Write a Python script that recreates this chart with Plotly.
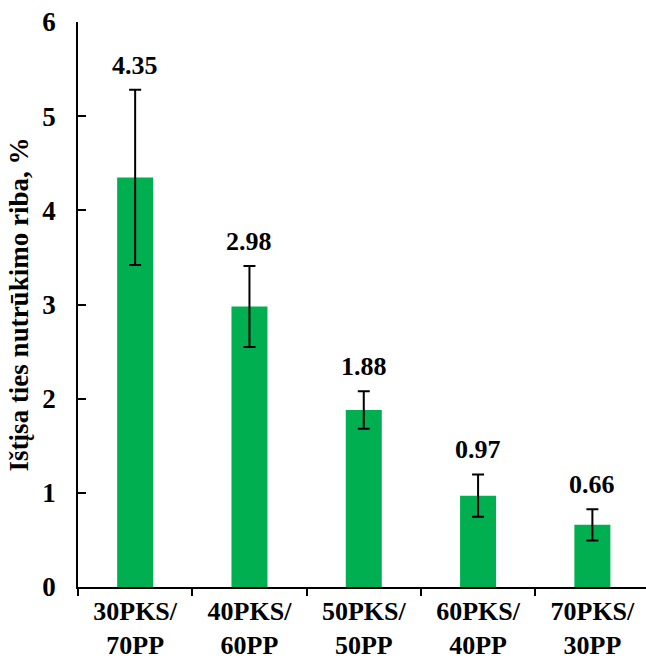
import plotly.graph_objects as go

categories = ["30PKS/<br>70PP", "40PKS/<br>60PP", "50PKS/<br>50PP", "60PKS/<br>40PP", "70PKS/<br>30PP"]
values = [4.35, 2.98, 1.88, 0.97, 0.66]
errors = [0.93, 0.43, 0.20, 0.225, 0.165]
labels = ["4.35", "2.98", "1.88", "0.97", "0.66"]

FONT = "Liberation Serif"

fig = go.Figure()
fig.add_trace(go.Bar(
    x=categories, y=values,
    marker=dict(color="#00B050", line=dict(width=0)),
    width=0.315,
    error_y=dict(type="data", array=errors, visible=True, color="black", thickness=2, width=6),
))

for c, v, e, t in zip(categories, values, errors, labels):
    fig.add_annotation(x=c, y=v + e, text=t, showarrow=False,
                       yanchor="bottom", yshift=8,
                       font=dict(family=FONT, size=26, color="black", weight="bold"))

fig.update_layout(
    width=646, height=664,
    margin=dict(l=78, r=0, t=22, b=77),
    plot_bgcolor="white", paper_bgcolor="white",
    showlegend=False,
    font=dict(family=FONT, color="black"),
)
fig.update_xaxes(
    type="category",
    range=[-0.5, 4.469],
    automargin=False,
    showline=True, linecolor="black", linewidth=1.5,
    ticks="outside", tickson="boundaries", ticklen=7, tickwidth=1.5, tickcolor="black",
    tickfont=dict(family=FONT, size=26, color="black", weight="bold"),
    ticklabelstandoff=0,
    showgrid=False,
)
fig.update_yaxes(
    range=[0, 6], dtick=1,
    automargin=False,
    showline=True, linecolor="black", linewidth=1.5,
    ticks="inside", ticklen=8, tickwidth=1.5, tickcolor="black",
    tickfont=dict(family=FONT, size=27, color="black", weight="bold"),
    ticklabelstandoff=15,
    showgrid=False, zeroline=False,
    title=dict(text="Ištįsa ties nutrūkimo riba, %",
               font=dict(family=FONT, size=27, color="black", weight="bold"), standoff=6),
)

fig.write_html("out.html")
